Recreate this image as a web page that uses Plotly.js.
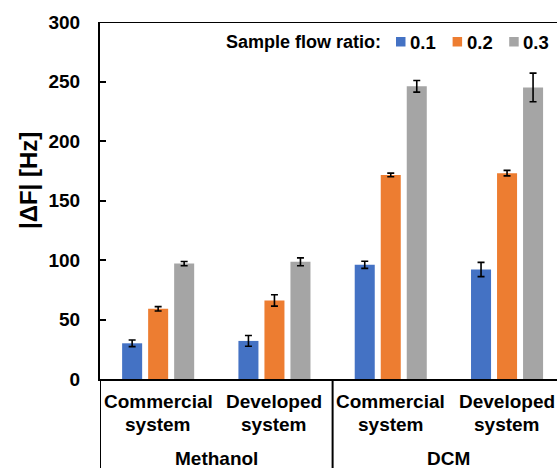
<!DOCTYPE html>
<html>
<head>
<meta charset="utf-8">
<script src="https://cdn.plot.ly/plotly-3.0.1.min.js"></script>
<style>html,body{margin:0;padding:0;background:#fff;overflow:hidden}#chart{width:557px;height:468px}</style>
</head>
<body>
<div id="chart"></div>
<script>
// ---- data ----
const groups = ['Methanol', 'DCM'];
const systems = ['Commercial<br>system', 'Developed<br>system'];
const seriesNames = ['0.1', '0.2', '0.3'];
const seriesColors = ['#4472C4', '#ED7D31', '#A5A5A5'];
const ratio01 = [30, 32, 96, 92];
const ratio01Err = [2.8, 4.5, 3, 6];
const ratio02 = [59, 66, 171.5, 173];
const ratio02Err = [1.8, 4.8, 1.5, 2.3];
const ratio03 = [97, 98.5, 246, 245];
const ratio03Err = [1.8, 3.3, 4.9, 12];
const yTicks = [0, 50, 100, 150, 200, 250, 300];
const legendTitle = 'Sample flow ratio:';
const yTitle = '|ΔF| [Hz]';

// ---- build ----
const FONT = 'Liberation Sans, Arial, sans-serif';
const W = 557, H = 468, L = 100, T = 22, B = 89;
const plotW = W - L, plotH = H - T - B;
const px = x => (x - L) / plotW;          // pixel -> paper x
const py = y => (H - B - y) / plotH;      // pixel -> paper y

const catLabels = [];
groups.forEach(g => systems.forEach(s => catLabels.push({g, s})));
const xIdx = catLabels.map((_, i) => i);

const vals = [ratio01, ratio02, ratio03];
const errs = [ratio01Err, ratio02Err, ratio03Err];

const traces = seriesNames.map((n, k) => ({
  type: 'bar', name: n, x: xIdx, y: vals[k],
  marker: {color: seriesColors[k]},
  error_y: {type: 'data', array: errs[k], visible: true, color: '#000', thickness: 1.6, width: 3.5},
  showlegend: false
}));

const catPx = 116.3;
const xRange = [-0.5, -0.5 + plotW / catPx];

const annotations = [];
const shapes = [];

// category labels
catLabels.forEach((c, i) => {
  const parts = c.s.split('<br>');
  annotations.push({xref: 'x', yref: 'paper', x: i, y: py(401), text: parts[0], showarrow: false,
    xanchor: 'center', yanchor: 'middle', font: {family: FONT, size: 19, color: '#000', weight: 700}});
  annotations.push({xref: 'x', yref: 'paper', x: i, y: py(424), text: parts[1], showarrow: false,
    xanchor: 'center', yanchor: 'middle', font: {family: FONT, size: 19, color: '#000', weight: 700}});
});
groups.forEach((g, j) => {
  annotations.push({xref: 'x', yref: 'paper', x: j * systems.length + (systems.length - 1) / 2, y: py(458),
    text: g, showarrow: false, xanchor: 'center', yanchor: 'middle',
    font: {family: FONT, size: 19, color: '#000', weight: 700}});
});
// group dividers (left edge + between groups)
groups.forEach((g, j) => {
  shapes.push({type: 'line', xref: 'x', yref: 'paper', x0: j * systems.length - 0.5, x1: j * systems.length - 0.5,
    y0: py(H + 2), y1: 0, line: {color: '#000', width: 2}});
});
// top border
shapes.push({type: 'line', xref: 'paper', yref: 'y', x0: 0, x1: 1.02, y0: 300, y1: 300, line: {color: '#000', width: 2}});

// y title
annotations.push({xref: 'paper', yref: 'paper', x: px(28), y: py(181), text: yTitle, textangle: -90, showarrow: false,
  xanchor: 'center', yanchor: 'middle', font: {family: FONT, size: 24, color: '#000', weight: 700}});

// legend (manual)
annotations.push({xref: 'paper', yref: 'paper', x: px(383), y: py(42), text: legendTitle, showarrow: false,
  xanchor: 'right', yanchor: 'middle', font: {family: FONT, size: 18, color: '#000', weight: 700}});
seriesNames.forEach((n, k) => {
  const x0 = 396 + k * 56.6;
  shapes.push({type: 'rect', xref: 'paper', yref: 'paper', x0: px(x0), x1: px(x0 + 9.5), y0: py(46.5), y1: py(37),
    fillcolor: seriesColors[k], line: {width: 0}});
  annotations.push({xref: 'paper', yref: 'paper', x: px(x0 + 12), y: py(42), text: n, showarrow: false,
    xanchor: 'left', yanchor: 'middle', font: {family: FONT, size: 18.5, color: '#000', weight: 700}});
});

const layout = {
  width: W, height: H,
  margin: {l: L, r: 0, t: T, b: B, pad: 0},
  paper_bgcolor: '#fff', plot_bgcolor: '#fff',
  barmode: 'group', bargap: 0.329, bargroupgap: 0.23,
  xaxis: {type: 'linear', range: xRange, showticklabels: false, ticks: '', showgrid: false, zeroline: false,
    showline: true, linecolor: '#000', linewidth: 2, fixedrange: true},
  yaxis: {range: [0, 300], tickvals: yTicks, ticks: 'inside', ticklen: 6, tickwidth: 2, tickcolor: '#000',
    showgrid: false, zeroline: false, showline: true, linecolor: '#000', linewidth: 2,
    ticklabelstandoff: 14,
    tickfont: {family: FONT, size: 19, color: '#000', weight: 700}, fixedrange: true},
  showlegend: false,
  annotations, shapes
};

Plotly.newPlot('chart', traces, layout, {displayModeBar: false, staticPlot: true});
</script>
</body>
</html>
